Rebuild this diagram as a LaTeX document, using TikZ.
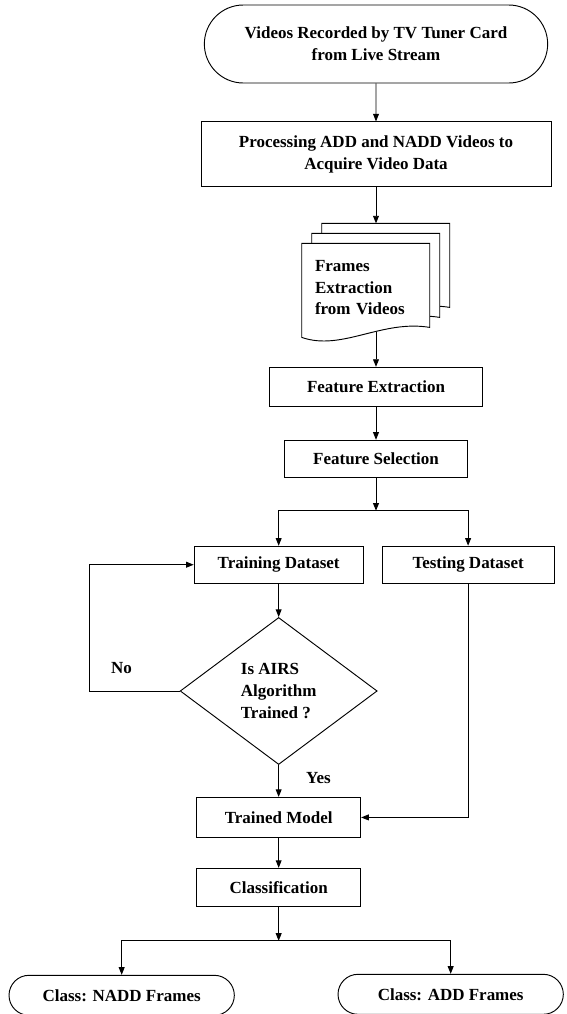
\documentclass[tikz,border=0pt]{standalone}
\usepackage{fontspec}
\setmainfont{Liberation Serif}
\usetikzlibrary{arrows.meta, positioning, shapes.geometric, shapes.misc, calc, backgrounds}

\begin{document}
\begin{tikzpicture}[
    node distance=1cm,
    every node/.style={font=\bfseries\fontsize{14.5}{18.5}\selectfont},
    box/.style={draw, line width=0.8pt, align=center, inner sep=2pt},
    term/.style={draw, line width=0.8pt, rounded rectangle, align=center, inner sep=2pt},
    decision/.style={draw, line width=0.8pt, diamond, align=left, inner sep=1pt},
    arrow/.style={line width=0.8pt, -{Triangle[length=6.5pt,width=5pt]}},
    lbl/.style={inner sep=0pt}
  ]
    \useasboundingbox (0,0) rectangle (17.01,-30.42);

    \node[term, minimum width=10.44cm, minimum height=2.34cm] (start) at (11.28,-1.32)
      {Videos Recorded by TV Tuner Card\\from Live Stream};
    \node[box, minimum width=10.5cm, minimum height=1.95cm, below=1.14cm of start] (proc)
      {Processing ADD and NADD Videos to\\Acquire Video Data};
    \node[text width=3.06cm, align=left, minimum width=3.84cm, minimum height=2.64cm,
          inner sep=0.39cm, below=1.68cm of proc, xshift=-0.3cm] (frames)
      {Frames\\Extraction\\from Videos};
    \begin{scope}[on background layer]
      \foreach \s in {2,1,0}
        \draw[line width=0.8pt, fill=white, shift={($(frames.north west)+(\s*0.3cm,\s*0.3cm)$)}]
          (0,0) -- (0,-2.82) .. controls (1.2,-3.24) and (2.4,-2.28) .. (3.84,-2.52) -- (3.84,0) -- cycle;
    \end{scope}
    \coordinate (stacktop) at ([yshift=0.6cm]frames.north);

    \node[box, minimum width=6.39cm, minimum height=1.17cm, below=1.05cm of frames, xshift=0.3cm] (fext)
      {Feature Extraction};
    \node[box, minimum width=5.49cm, minimum height=1.11cm, below=0.99cm of fext] (fsel)
      {Feature Selection};
    \coordinate[below=0.99cm of fsel] (split);
    \node[box, minimum width=5.07cm, minimum height=1.11cm, below=2.04cm of fsel, xshift=-2.92cm] (train)
      {Training Dataset};
    \node[box, minimum width=5.16cm, minimum height=1.11cm, right=0.54cm of train] (test)
      {Testing Dataset};
    \node[decision, minimum width=5.91cm, minimum height=4.41cm, below=1.0cm of train] (dec)
      {Is AIRS\\Algorithm\\Trained ?};
    \node[box, minimum width=4.92cm, minimum height=1.2cm, below=0.96cm of dec] (model)
      {Trained Model};
    \node[box, minimum width=4.92cm, minimum height=1.14cm, below=0.9cm of model] (classif)
      {Classification};
    \coordinate[below=1.02cm of classif] (split2);
    \node[term, minimum width=6.9cm, minimum height=1.2cm, below=1.02cm of split2, xshift=-4.71cm] (nadd)
      {Class: NADD Frames};
    \node[term, minimum width=6.9cm, minimum height=1.2cm, below=0.99cm of split2, xshift=5.16cm] (add)
      {Class: ADD Frames};

    \draw[arrow] (start) -- (proc);
    \draw[arrow] (proc) -- (proc |- stacktop);
    \draw[arrow] (frames.south -| fext.north) -- (fext);
    \draw[arrow] (fext) -- (fsel);
    \draw[arrow] (fsel) -- (split);
    \draw[arrow] (split) -| (train);
    \draw[arrow] (split) -| (test);
    \draw[arrow] (train) -- (dec);
    \draw[arrow] (dec.west) -- ++(-2.7cm,0) node[lbl, above right=0.51cm and 0.63cm] {No} |- (train);
    \draw[arrow] (dec) -- node[lbl, pos=0.4, right=0.81cm] {Yes} (model);
    \draw[arrow] (test) |- (model);
    \draw[arrow] (model) -- (classif);
    \draw[arrow] (classif) -- (split2);
    \draw[arrow] (split2) -| (nadd);
    \draw[arrow] (split2) -| (add);
  \end{tikzpicture}
\end{document}
